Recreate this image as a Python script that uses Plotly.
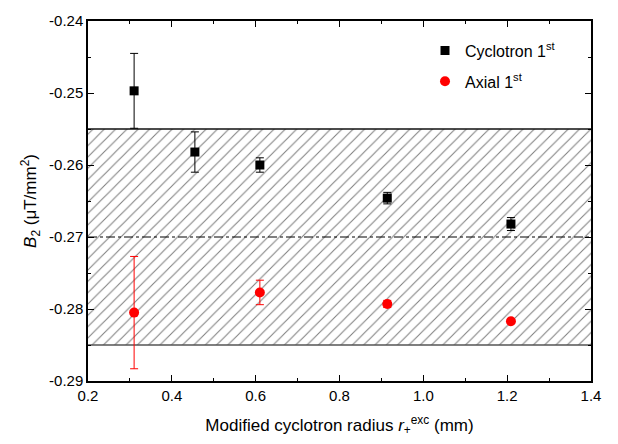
import plotly.graph_objects as go

# Measured B2 coefficients vs. modified cyclotron radius
cyc_r = [0.31, 0.455, 0.61, 0.914, 1.209]
cyc_b2 = [-0.2497, -0.2582, -0.2600, -0.2646, -0.2682]
cyc_err = [0.0052, 0.0028, 0.0010, 0.0008, 0.0009]

ax_r = [0.31, 0.61, 0.914, 1.209]
ax_b2 = [-0.2805, -0.2777, -0.2793, -0.2817]
ax_err = [0.0078, 0.0017, 0.0005, 0.0003]

# Reference band: mean value and its uncertainty limits
band_mean = -0.270
band_hi = -0.255
band_lo = -0.285

x_range = [0.2, 1.4]
y_range = [-0.29, -0.24]
x_ticks = [0.2, 0.4, 0.6, 0.8, 1.0, 1.2, 1.4]
x_ticklabels = ["0.2", "0.4", "0.6", "0.8", "1.0", "1.2", "1.4"]
y_ticks = [-0.29, -0.28, -0.27, -0.26, -0.25, -0.24]
y_ticklabels = ["-0.29", "-0.28", "-0.27", "-0.26", "-0.25", "-0.24"]

FONT = "Liberation Sans, Arial, sans-serif"

fig = go.Figure()

# Hatched uncertainty band
fig.add_trace(go.Scatter(
    x=[x_range[0], x_range[1], x_range[1], x_range[0], x_range[0]],
    y=[band_hi, band_hi, band_lo, band_lo, band_hi],
    mode="lines", fill="toself", line=dict(width=0),
    fillcolor="rgba(0,0,0,0)",
    fillpattern=dict(shape="/", size=8, solidity=0.13,
                     fgcolor="black", bgcolor="white"),
    hoverinfo="skip", showlegend=False,
))

# Band edges and mean line
fig.add_trace(go.Scatter(x=x_range, y=[band_hi, band_hi], mode="lines",
                         line=dict(color="#111111", width=1.5),
                         hoverinfo="skip", showlegend=False))
fig.add_trace(go.Scatter(x=x_range, y=[band_lo, band_lo], mode="lines",
                         line=dict(color="#555555", width=1.5),
                         hoverinfo="skip", showlegend=False))
fig.add_trace(go.Scatter(x=x_range, y=[band_mean, band_mean], mode="lines",
                         line=dict(color="black", width=1, dash="dashdot"),
                         hoverinfo="skip", showlegend=False))

fig.add_trace(go.Scatter(
    x=cyc_r, y=cyc_b2, mode="markers", name="Cyclotron 1<sup>st</sup>",
    legendgroup="cyc",
    marker=dict(symbol="square", size=9, color="black"),
    error_y=dict(type="data", array=cyc_err, color="black", thickness=1, width=4),
))
fig.add_trace(go.Scatter(
    x=ax_r, y=ax_b2, mode="markers", name="Axial 1<sup>st</sup>",
    legendgroup="ax",
    marker=dict(symbol="circle", size=10, color="red"),
    error_y=dict(type="data", array=ax_err, color="red", thickness=1, width=4),
))

axis_common = dict(
    showline=True, linecolor="black", linewidth=1.5, mirror="ticks",
    ticks="inside", ticklen=6, tickwidth=1.2, tickcolor="black",
    showgrid=False, zeroline=False,
    tickfont=dict(family=FONT, size=15, color="black"),
)

fig.update_xaxes(
    **axis_common, range=x_range, tickmode="array",
    tickvals=x_ticks, ticktext=x_ticklabels,
    minor=dict(ticks="inside", ticklen=3, tickwidth=1.2, tickcolor="black",
               tickmode="linear", tick0=0.2, dtick=0.1, showgrid=False),
    title=dict(text="Modified cyclotron radius <i>r</i><sub>+</sub><sup>exc</sup> (mm)",
               font=dict(family=FONT, size=17, color="black"), standoff=16),
)
fig.update_yaxes(
    **axis_common, range=y_range, tickmode="array",
    tickvals=y_ticks, ticktext=y_ticklabels,
    minor=dict(ticks="inside", ticklen=3, tickwidth=1.2, tickcolor="black",
               tickmode="linear", tick0=-0.29, dtick=0.005, showgrid=False),
    title=dict(text="<i>B</i><sub>2</sub> (\u03bcT/mm<sup>2</sup>)",
               font=dict(family=FONT, size=17, color="black"), standoff=8),
)

fig.update_layout(
    width=618, height=444,
    margin=dict(l=88, r=27, t=15, b=59),
    paper_bgcolor="white", plot_bgcolor="white",
    font=dict(family=FONT, size=15, color="black"),
    showlegend=True,
    legend=dict(x=0.67, y=0.965, xanchor="left", yanchor="top",
                bgcolor="rgba(0,0,0,0)", tracegroupgap=7,
                font=dict(family=FONT, size=16, color="black")),
)

fig.write_html("out.html")
